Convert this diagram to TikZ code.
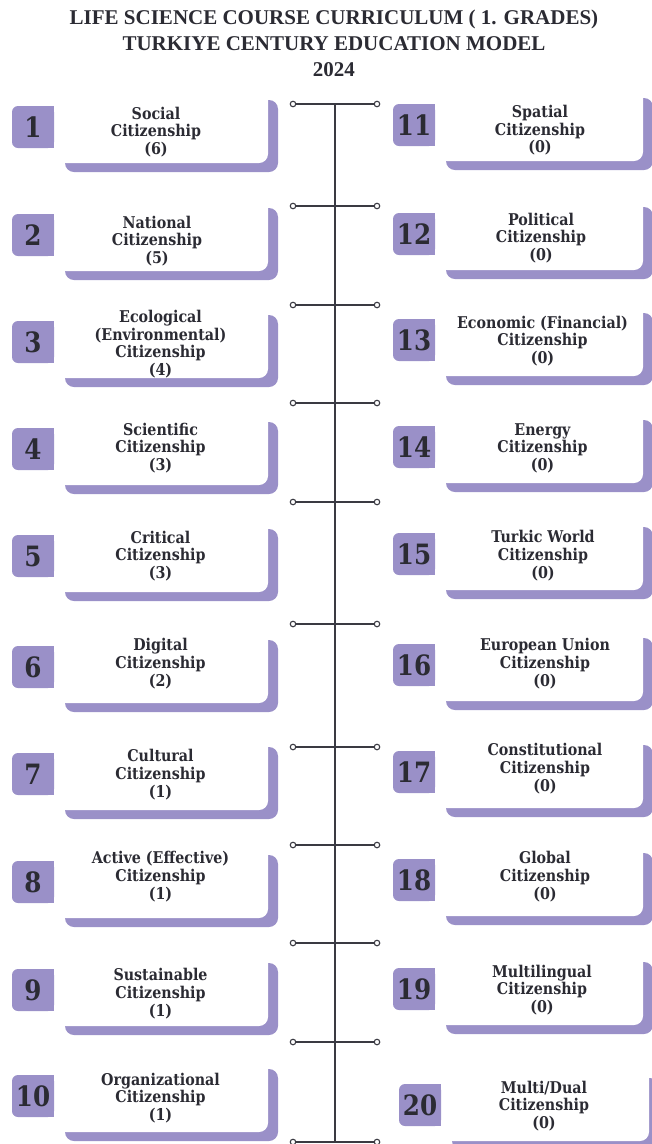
\documentclass[tikz,border=0pt]{standalone}
\usepackage{fontspec}
\setmainfont{DejaVu Serif}
\newfontfamily\cardfont[FakeStretch=0.88]{DejaVu Serif}
\newfontfamily\headfont{Liberation Serif}

\definecolor{lav}{HTML}{9A90C8}
\definecolor{ink}{HTML}{2B2B33}
\definecolor{rail}{HTML}{3A3A42}

\tikzset{
  cardtext/.style={align=center, text=ink, inner sep=0pt, yshift=-1.5pt,
    font=\cardfont\bfseries\fontsize{16.2}{17.6}\selectfont},
  numtext/.style={text=ink, inner sep=0pt,
    font=\cardfont\bfseries\fontsize{28}{28}\selectfont},
  headtext/.style={align=center, text=ink, inner sep=0pt,
    font=\headfont\bfseries\fontsize{21}{26}\selectfont},
  railline/.style={draw=rail, line width=1.6pt},
  pin/.style={circle, draw=rail, fill=white, line width=1.1pt,
    minimum size=5.5pt, inner sep=0pt},
}

% #1 name, #2 number, #3 left x of the card body, #4 card width,
% #5 top y, #6 text x, #7 text y, #8 label
\newcommand\citcard[8]{%
  \fill[lav, rounded corners=9pt] (#3,#5) rectangle ++(#4,72);
  \fill[white, rounded corners=9pt] (#3-10,#5-14) rectangle (#3+#4-10,#5+63);
  \fill[lav, rounded corners=6pt] (#3-53,#5+6) rectangle ++(42,42);
  \fill[lav] (#3-33,#5+6) rectangle ++(22,42);
  \node[numtext] (#1n) at (#3-32,#5+27) {#2};
  \node[cardtext] (#1) at (#6,#7) {#8};
}

\begin{document}
\begin{tikzpicture}[x=1pt, y=-1pt]
\useasboundingbox (0,0) rectangle (652,1144);

\node[headtext] (head) at (334,43)
  {LIFE SCIENCE COURSE CURRICULUM ( 1. GRADES)\\
   TURKIYE CENTURY EDUCATION MODEL\\
   2024};

% central rail with its cross bars
\coordinate (railtop) at (335,104);
\coordinate (railbot) at (335,1142);
\draw[railline] (railtop) -- (railbot);
\foreach \k/\yy in {1/104, 2/206, 3/305, 4/403, 5/502, 6/624,
                    7/747, 8/845, 9/943, 10/1042, 11/1142} {
  \node[pin] (pl\k) at (293,\yy) {};
  \node[pin] (pr\k) at (377,\yy) {};
  \draw[railline] (pl\k) -- (pr\k);
}

% left column
\citcard{c1}{1}{65}{213}{100}{156}{130.5}{Social\\Citizenship\\(6)}
\citcard{c2}{2}{65}{213}{208}{157}{239.5}{National\\Citizenship\\(5)}
\citcard{c3}{3}{65}{213}{315}{160.5}{342.5}{Ecological\\(Environmental)\\Citizenship\\(4)}
\citcard{c4}{4}{65}{213}{422}{160.5}{446.5}{Scientific\\Citizenship\\(3)}
\citcard{c5}{5}{65}{213}{529}{160.5}{554.5}{Critical\\Citizenship\\(3)}
\citcard{c6}{6}{65}{213}{640}{160.5}{662}{Digital\\Citizenship\\(2)}
\citcard{c7}{7}{65}{213}{747}{160.5}{773}{Cultural\\Citizenship\\(1)}
\citcard{c8}{8}{65}{213}{855}{160.5}{875}{Active (Effective)\\Citizenship\\(1)}
\citcard{c9}{9}{65}{213}{963}{160.5}{992}{Sustainable\\Citizenship\\(1)}
\citcard{c10}{10}{65}{213}{1069}{160.5}{1096.5}{Organizational\\Citizenship\\(1)}

% right column
\citcard{c11}{11}{446}{207}{98}{540}{129}{Spatial\\Citizenship\\(0)}
\citcard{c12}{12}{446}{207}{207}{541}{236.5}{Political\\Citizenship\\(0)}
\citcard{c13}{13}{446}{207}{313}{542.5}{339.5}{Economic (Financial)\\Citizenship\\(0)}
\citcard{c14}{14}{446}{207}{420}{542.5}{446.5}{Energy\\Citizenship\\(0)}
\citcard{c15}{15}{446}{207}{527}{543}{554}{Turkic World\\Citizenship\\(0)}
\citcard{c16}{16}{446}{207}{638}{545}{662}{European Union\\Citizenship\\(0)}
\citcard{c17}{17}{446}{207}{745}{545}{767}{Constitutional\\Citizenship\\(0)}
\citcard{c18}{18}{446}{207}{853}{545}{875}{Global\\Citizenship\\(0)}
\citcard{c19}{19}{446}{207}{962}{542}{988.5}{Multilingual\\Citizenship\\(0)}
\citcard{c20}{20}{452}{207}{1078}{544}{1104.5}{Multi/Dual\\Citizenship\\(0)}
\end{tikzpicture}
\end{document}
